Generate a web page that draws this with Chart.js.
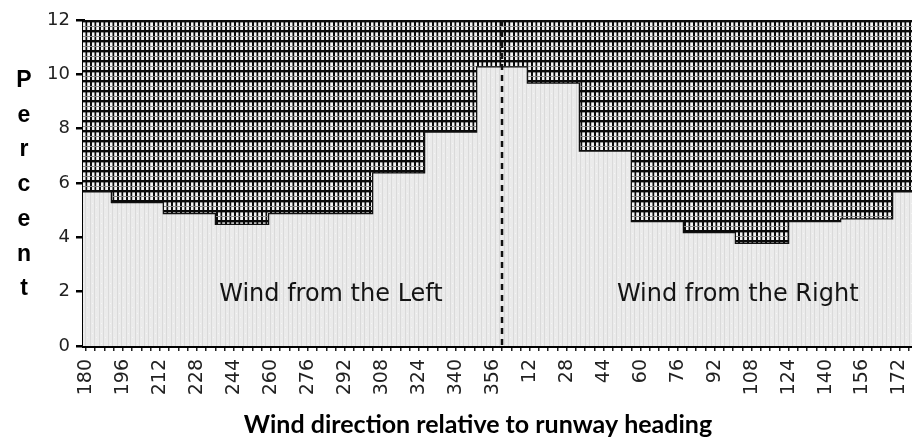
<!DOCTYPE html>
<html><head><meta charset="utf-8">
<script src="https://cdn.jsdelivr.net/npm/chart.js@4.4.0/dist/chart.umd.min.js"></script>
<style>html,body{margin:0;padding:0;background:#fff;} #wrap{width:912px;height:441px;position:relative}</style>
</head><body><div id="wrap"><canvas id="c" width="912" height="441"></canvas></div>
<script>
// ---- data ----
const directions = [180, 202.5, 225, 247.5, 270, 292.5, 315, 337.5, 0, 22.5, 45, 67.5, 90, 112.5, 135, 157.5, 180];
const percents   = [5.7, 5.3, 4.9, 4.5, 4.9, 4.9, 6.4, 7.9, 10.3, 9.7, 7.2, 4.6, 4.2, 3.8, 4.6, 4.7, 5.7];
const xTickLabels = ['180','196','212','228','244','260','276','292','308','324','340','356','12','28','44','60','76','92','108','124','140','156','172'];
const yTickValues = [0, 2, 4, 6, 8, 10, 12];
const yTitle = 'Percent';
const xTitle = 'Wind direction relative to runway heading';
const regionLabels = ['Wind from the Left', 'Wind from the Right'];
const regionLabelPos = [{dir: 286, pct: 1.9}, {dir: 102, pct: 1.9}];
const runwayHeading = 0;

// ---- helpers ----
const startDir = directions[0];
function toOffset(d, prev) {
  let o = ((d - startDir) % 360 + 360) % 360;
  if (prev !== undefined && o < prev) o += 360;
  return o;
}
const offsets = [];
directions.forEach((d, i) => offsets.push(toOffset(d, i ? offsets[i - 1] : undefined)));
const halfBin = 360 / (directions.length - 1) / 2;
const stepPoints = offsets.map((o, i) => ({x: o - halfBin, y: percents[i]}));
stepPoints.push({x: offsets[offsets.length - 1] + halfBin, y: percents[percents.length - 1]});

function makePattern(w, h, draw) {
  const c = document.createElement('canvas');
  c.width = w; c.height = h;
  const g = c.getContext('2d');
  draw(g, w, h);
  return document.getElementById('c').getContext('2d').createPattern(c, 'repeat');
}
const darkPattern = makePattern(9, 10, (g, w, h) => {
  g.fillStyle = '#f4f4f4'; g.fillRect(0, 0, w, h);
  g.fillStyle = '#0a0a0a';
  g.fillRect(0, 0, 2, h);
  g.fillRect(4.5, 0, 1.7, h);
  g.fillRect(0, 0, w, 2.4);
  g.fillStyle = '#8a8a8a';
  g.fillRect(0, 6, w, 1);
});
const lightPattern = makePattern(9, 10, (g, w, h) => {
  g.fillStyle = '#ebebeb'; g.fillRect(0, 0, w, h);
  g.fillStyle = '#dadada';
  g.fillRect(0, 0, 1, h);
  g.fillRect(4, 0, 1, h);
  g.fillStyle = '#f6f6f6';
  g.fillRect(2, 3, 1, 1); g.fillRect(6, 7, 1, 1);
});

const textPlugin = {
  id: 'texts',
  afterDatasetsDraw(chart) {
    const {ctx, scales: {x, y}, chartArea} = chart;
    ctx.save();
    // runway heading dashed line
    const hx = x.getPixelForValue(toOffset(runwayHeading));
    ctx.strokeStyle = '#111';
    ctx.lineWidth = 2.5;
    ctx.setLineDash([6, 5]);
    ctx.beginPath();
    ctx.moveTo(hx, chartArea.top);
    ctx.lineTo(hx, chartArea.bottom);
    ctx.stroke();
    ctx.setLineDash([]);
    // region labels
    ctx.fillStyle = '#141414';
    ctx.font = '24px "DejaVu Sans"';
    ctx.textAlign = 'center';
    ctx.textBaseline = 'middle';
    regionLabels.forEach((t, i) => {
      const p = regionLabelPos[i];
      ctx.fillText(t, x.getPixelForValue(toOffset(p.dir)), y.getPixelForValue(p.pct));
    });
    ctx.restore();
  },
  afterDraw(chart) {
    const {ctx} = chart;
    ctx.save();
    ctx.fillStyle = '#000';
    ctx.font = 'bold 23px "Liberation Sans"';
    ctx.textAlign = 'center';
    ctx.textBaseline = 'alphabetic';
    [...yTitle].forEach((ch, i) => ctx.fillText(ch, 24, 87 + i * 34.7));
    ctx.font = 'bold 25px Lato';
    ctx.textBaseline = 'middle';
    ctx.fillText(xTitle, 478, 425);
    ctx.restore();
  }
};

new Chart(document.getElementById('c'), {
  type: 'line',
  data: {
    datasets: [
      {data: stepPoints, stepped: 'before', fill: 'end', backgroundColor: darkPattern, borderWidth: 0, pointRadius: 0},
      {data: stepPoints, stepped: 'before', fill: 'start', backgroundColor: lightPattern, borderColor: '#111', borderWidth: 2.5, pointRadius: 0}
    ]
  },
  options: {
    responsive: false,
    animation: false,
    events: [],
    layout: {padding: {left: 0, right: 0, top: 20, bottom: 0}},
    plugins: {legend: {display: false}, tooltip: {enabled: false}},
    scales: {
      x: {
        type: 'linear', min: -1.3, max: 357.4,
        afterBuildTicks(s) {
          const t = [];
          for (let v = 0; v <= 356; v += 4) t.push({value: v});
          s.ticks = t;
        },
        afterFit(s) { s.height = 95; s.paddingLeft = 0; s.paddingRight = 0; },
        ticks: {
          autoSkip: false, minRotation: 90, maxRotation: 90, padding: 8,
          color: '#222', font: {family: 'DejaVu Sans', size: 19},
          callback: (v) => (v % 16 === 0 ? xTickLabels[v / 16] : '')
        },
        grid: {drawOnChartArea: false, drawTicks: true, tickLength: 5, color: '#222', lineWidth: 1.5},
        border: {display: true, color: '#000', width: 3}
      },
      y: {
        min: 0, max: 12,
        afterBuildTicks(s) { s.ticks = yTickValues.map(v => ({value: v})); },
        afterFit(s) { s.width = 83; },
        ticks: {color: '#222', font: {family: 'DejaVu Sans', size: 18}, padding: 6},
        grid: {drawOnChartArea: false, drawTicks: true, tickLength: 7, color: '#000', lineWidth: 2.5},
        border: {display: true, color: '#000', width: 3}
      }
    }
  },
  plugins: [textPlugin]
});
</script></body></html>
